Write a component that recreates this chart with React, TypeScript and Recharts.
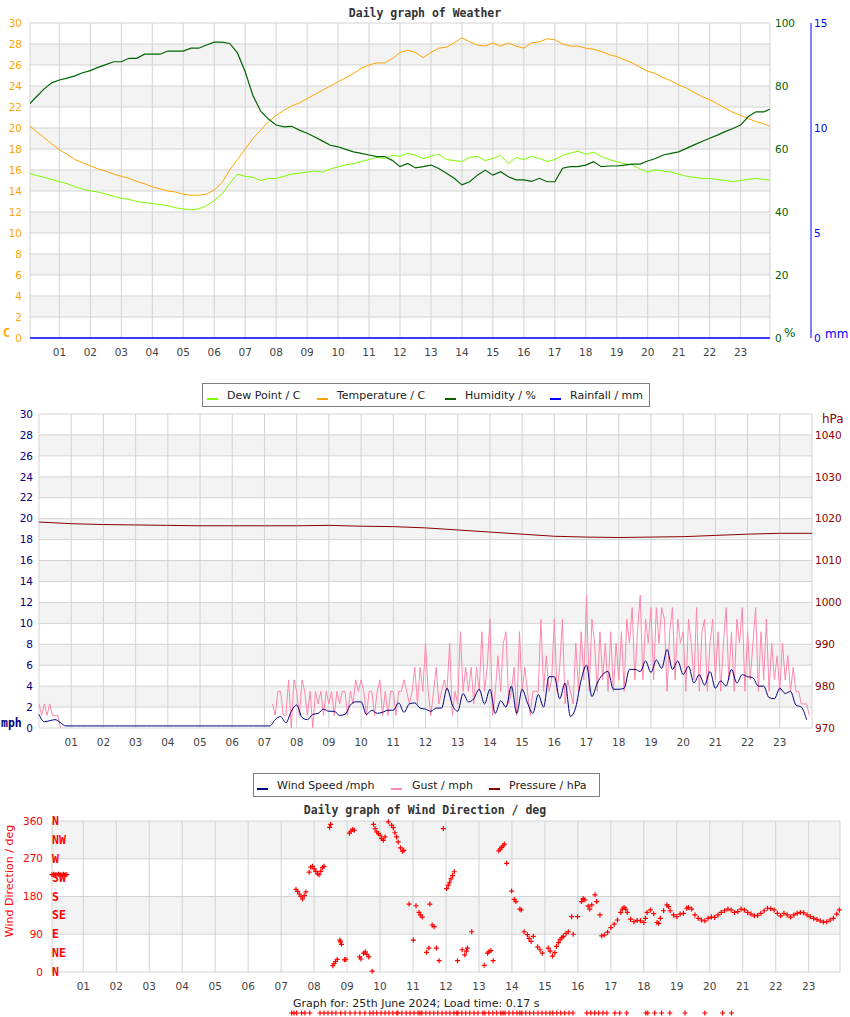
import { LineChart, Line, XAxis, YAxis, CartesianGrid, ScatterChart, Scatter } from "recharts";

const FONT = "'DejaVu Sans', sans-serif";
const MONO = "'DejaVu Sans Mono', monospace";
const GRID = "#d3d3d3";
const BAND = "#f3f3f3";

// x axis hours
const hourTicks = [1, 2, 3, 4, 5, 6, 7, 8, 9, 10, 11, 12, 13, 14, 15, 16, 17, 18, 19, 20, 21, 22, 23];

// top chart, 15 minute samples from 00:00
const temperature = [
  20.3, 19.7, 19.1, 18.5, 17.9, 17.5, 17.0, 16.7, 16.4, 16.1, 15.9, 15.6,
  15.4, 15.2, 14.9, 14.7, 14.4, 14.2, 14.0, 13.9, 13.7, 13.6, 13.6, 13.7,
  14.1, 14.8, 16.0, 17.0, 18.0, 19.0, 19.8, 20.6, 21.2, 21.7, 22.1, 22.4,
  22.8, 23.2, 23.6, 24.0, 24.4, 24.8, 25.2, 25.7, 26.0, 26.2, 26.2, 26.6,
  27.2, 27.4, 27.2, 26.7, 27.2, 27.6, 27.7, 28.1, 28.6, 28.2, 27.9, 27.8,
  28.1, 27.8, 28.1, 27.8, 27.6, 28.1, 28.2, 28.5, 28.4, 28.0, 27.8, 27.8,
  27.6, 27.5, 27.3, 27.0, 26.8, 26.5, 26.2, 25.8, 25.4, 25.2, 24.8, 24.5,
  24.1, 23.8, 23.4, 23.0, 22.7, 22.3, 21.9, 21.5, 21.2, 20.9, 20.6, 20.4, 20.1,
];
const dewPoint = [
  15.7, 15.5, 15.3, 15.1, 14.9, 14.7, 14.4, 14.2, 14.0, 13.9, 13.7, 13.5,
  13.3, 13.2, 13.0, 12.9, 12.8, 12.7, 12.6, 12.4, 12.3, 12.2, 12.3, 12.6,
  13.1, 13.7, 14.7, 15.6, 15.4, 15.3, 15.0, 15.2, 15.2, 15.4, 15.6, 15.7,
  15.8, 15.9, 15.8, 16.1, 16.3, 16.5, 16.6, 16.8, 17.0, 17.2, 17.1, 17.4,
  17.3, 17.6, 17.4, 17.1, 17.3, 17.5, 17.0, 16.9, 16.8, 17.2, 17.3, 16.9,
  17.1, 17.4, 16.6, 17.2, 17.0, 17.3, 17.1, 16.8, 17.0, 17.4, 17.6, 17.8,
  17.5, 17.7, 17.3, 17.0, 16.8, 16.6, 16.5, 16.1, 15.8, 16.0, 15.9, 15.8,
  15.6, 15.4, 15.3, 15.2, 15.2, 15.1, 15.0, 14.9, 15.0, 15.1, 15.2, 15.1, 15.0,
];
const humidity = [
  74.0, 76.5, 79.0, 81.0, 81.9, 82.5, 83.2, 84.2, 84.9, 85.9, 86.8, 87.7,
  87.7, 88.8, 88.8, 90.1, 90.1, 90.1, 91.1, 91.1, 91.1, 92.0, 92.0, 93.0,
  93.9, 93.9, 93.5, 90.5, 84.5, 77.0, 72.0, 69.5, 67.6, 67.0, 67.2, 66.0,
  65.0, 63.8, 62.5, 61.2, 60.7, 59.9, 59.1, 58.6, 58.1, 57.6, 57.6, 56.4,
  54.4, 55.4, 54.0, 54.4, 54.9, 53.8, 52.3, 50.7, 48.6, 49.6, 51.7, 53.3,
  51.7, 52.8, 51.2, 50.2, 50.2, 49.7, 50.7, 49.6, 49.6, 53.9, 54.4, 54.4,
  54.9, 56.0, 54.4, 54.6, 54.6, 54.9, 55.2, 55.2, 56.2, 57.0, 58.1, 58.6,
  59.1, 60.2, 61.3, 62.4, 63.4, 64.4, 65.5, 66.5, 67.6, 70.3, 71.8, 71.8, 72.9,
];
const rainHours = [0, 24];
const rainfall = [0, 0];

// middle chart, wind speed in 10 minute samples
const windSpeed = [
  1.3, 0.6, 0.7, 0.8, 0.5, 0.2,
  0.2, 0.2, 0.2, 0.2, 0.2, 0.2,
  0.2, 0.2, 0.2, 0.2, 0.2, 0.2,
  0.2, 0.2, 0.2, 0.2, 0.2, 0.2,
  0.2, 0.2, 0.2, 0.2, 0.2, 0.2,
  0.2, 0.2, 0.2, 0.2, 0.2, 0.2,
  0.2, 0.2, 0.2, 0.2, 0.2, 0.2,
  0.2, 0.2, 0.8, 1.1, 0.5, 1.6,
  2.2, 1.0, 0.8, 1.3, 1.4, 1.8,
  1.6, 1.6, 1.2, 1.3, 2.2, 2.5,
  2.5, 1.3, 1.7, 1.4, 1.5, 1.7,
  1.7, 2.4, 1.5, 2.3, 2.4, 1.9,
  1.8, 1.6, 1.9, 1.9, 3.8, 2.2,
  1.6, 3.3, 2.5, 2.8, 3.7, 2.3,
  3.7, 1.4, 2.6, 2.0, 4.0, 1.4,
  3.7, 2.4, 1.4, 3.2, 2.0, 4.9,
  4.9, 2.8, 4.3, 1.1, 2.0, 4.6,
  6.0, 3.0, 4.3, 5.1, 5.4, 3.7,
  3.7, 3.8, 5.6, 5.6, 5.4, 6.4,
  5.3, 6.5, 5.7, 7.5, 5.6, 6.4,
  5.1, 5.9, 4.3, 5.1, 4.1, 5.4,
  3.8, 4.5, 4.0, 5.6, 4.3, 5.1,
  4.9, 4.8, 4.0, 4.0, 2.9, 2.8,
  3.8, 3.3, 3.5, 2.2, 2.0, 0.8,
];
// gust in 5 minute samples: just after midnight, then from 07:15
const gustNight = [2.3, 1.2, 2.3, 1.2, 2.3, 1.2, 1.2, 1.2, 0];
const gustDay = [
  2.3, 1.2, 3.5, 3.5, 1.2, 1.2, 4.6, 0, 4.6,
  3.5, 1.2, 4.6, 3.5, 1.2, 3.5, 0, 3.5, 2.3, 3.5, 1.2, 3.5,
  2.3, 3.5, 1.2, 3.5, 2.3, 3.5, 3.5, 1.2, 3.5, 2.3, 4.6, 3.5,
  4.6, 3.5, 1.2, 3.5, 3.5, 1.2, 3.5, 4.6, 1.2, 3.5, 1.2, 3.5,
  3.5, 1.2, 3.5, 3.5, 4.6, 3.5, 2.3, 3.5, 5.8, 2.3, 5.8, 3.5,
  8.1, 3.5, 1.2, 3.5, 5.8, 2.3, 3.5, 4.6, 3.5, 8.1, 1.2, 3.5,
  2.3, 9.2, 3.5, 5.8, 3.5, 5.8, 2.3, 5.8, 3.5, 9.2, 3.5, 5.8,
  10.4, 1.2, 3.5, 6.9, 3.5, 8.1, 9.2, 2.3, 3.5, 5.8, 1.2, 9.2,
  3.5, 5.8, 3.5, 1.2, 3.5, 3.5, 3.5, 10.4, 3.5, 6.9, 3.5, 4.6,
  10.4, 3.5, 5.8, 10.4, 2.3, 4.6, 3.5, 2.3, 8.1, 3.5, 9.2, 4.6,
  12.7, 3.5, 10.4, 8.1, 3.5, 9.2, 4.6, 8.1, 3.5, 9.2, 3.5, 8.1,
  4.6, 9.2, 3.5, 10.4, 8.1, 11.5, 4.6, 9.2, 12.7, 4.6, 10.4, 8.1,
  11.5, 4.6, 11.5, 8.1, 11.5, 10.4, 3.5, 9.2, 11.5, 4.6, 10.4, 8.1,
  9.2, 3.5, 10.4, 8.1, 4.6, 11.5, 3.5, 9.2, 10.4, 3.5, 8.1, 10.4,
  4.6, 9.2, 3.5, 8.1, 11.5, 4.6, 9.2, 3.5, 10.4, 8.1, 11.5, 3.5,
  9.2, 4.6, 8.1, 11.5, 3.5, 9.2, 4.6, 10.4, 3.5, 8.1, 4.6, 6.9,
  3.5, 8.1, 4.6, 6.9, 3.5, 5.8, 3.5, 3.5, 2.3, 2.3, 2.3, 1.2,
];
// hourly pressure
const pressure = [
  1019.2, 1018.8, 1018.6, 1018.5, 1018.4, 1018.3, 1018.3, 1018.3, 1018.3, 1018.4,
  1018.2, 1018.1, 1017.8, 1017.3, 1016.8, 1016.3, 1015.8, 1015.6, 1015.5, 1015.6,
  1015.7, 1016.0, 1016.3, 1016.5, 1016.5,
];

// bottom chart
const dirHours = [
  0.05, 0.1, 0.15, 0.2, 0.25, 0.3, 0.35, 0.4, 0.45, 0.5,
  7.45, 7.5, 7.55, 7.6, 7.65, 7.7, 7.75, 7.85, 7.9, 7.95, 8.0, 8.05, 8.1, 8.15, 8.2, 8.25, 8.3,
  8.47, 8.5, 8.57, 8.6, 8.65, 8.7, 8.78, 8.8, 8.83, 8.92, 8.96,
  9.07, 9.12, 9.17, 9.22, 9.38, 9.42, 9.5, 9.55, 9.6, 9.66, 9.76,
  9.8, 9.85, 9.9, 9.95, 10.0, 10.05, 10.1, 10.15, 10.25, 10.35, 10.4, 10.45, 10.5, 10.55, 10.62, 10.68, 10.72,
  10.88, 11.01, 11.09, 11.18, 11.22, 11.28,
  11.41, 11.48, 11.51, 11.58, 11.64, 11.71, 11.79, 11.92,
  12.02, 12.07, 12.11, 12.15, 12.2, 12.25, 12.35, 12.49, 12.57, 12.62, 12.65, 12.78,
  13.16, 13.26, 13.3, 13.36, 13.43, 13.6, 13.64, 13.69, 13.73, 13.77, 13.84,
  13.99, 14.07, 14.12, 14.24, 14.28, 14.37, 14.47, 14.52, 14.58, 14.65, 14.78, 14.85, 14.92,
  15.1, 15.16, 15.23, 15.3, 15.35, 15.41, 15.46, 15.52, 15.56, 15.64, 15.71, 15.81, 15.86, 15.99,
  16.11, 16.16, 16.21, 16.31, 16.36, 16.42, 16.52, 16.57, 16.67,
  16.72, 16.8, 16.9, 17.0, 17.1, 17.2, 17.3, 17.35, 17.4, 17.45, 17.5, 17.6, 17.7, 17.8, 17.9,
  18.0, 18.05, 18.1, 18.2, 18.3, 18.4, 18.45, 18.5, 18.6, 18.7, 18.75, 18.8, 18.9,
  19.0, 19.1, 19.2, 19.3, 19.35, 19.45, 19.55, 19.65, 19.75, 19.85, 19.95,
  20.05, 20.15, 20.25, 20.35, 20.45, 20.55, 20.65, 20.75, 20.85, 20.95,
  21.05, 21.15, 21.25, 21.35, 21.45, 21.55, 21.65, 21.75, 21.85, 21.95,
  22.05, 22.15, 22.25, 22.35, 22.45, 22.55, 22.65, 22.75, 22.85, 22.95,
  23.05, 23.15, 23.25, 23.35, 23.45, 23.55, 23.65, 23.75, 23.85, 23.93,
];
const dirDegrees = [
  232, 233, 232, 232, 233, 232, 232, 233, 232, 232,
  197, 192, 186, 180, 174, 182, 191, 238, 250, 252, 246, 240, 234, 232, 240, 249, 252,
  345, 352, 15, 20, 25, 30, 76, 72, 66, 29, 30,
  331, 336, 340, 338, 36, 31, 45, 48, 42, 36, 2,
  352, 342, 334, 330, 326, 318, 314, 322, 358, 350, 344, 332, 322, 310, 296, 288, 290,
  162, 76, 158, 142, 136, 131,
  47, 57, 162, 112, 108, 57, 27, 342,
  199, 207, 214, 222, 230, 239, 27, 53, 41, 50, 57, 96,
  16, 45, 48, 51, 27, 289, 293, 297, 301, 305, 259,
  193, 173, 168, 150, 148, 96, 89, 80, 73, 85, 60, 53, 45,
  57, 50, 38, 46, 61, 70, 77, 82, 85, 92, 96, 132, 90, 132,
  168, 175, 172, 157, 150, 160, 184, 168, 136,
  86, 88, 95, 106, 114, 124, 142, 150, 154, 150, 142, 126, 120, 123, 122,
  118, 128, 142, 148, 139, 118, 116, 128, 146, 160, 156, 146, 136,
  132, 138, 140, 152, 154, 150, 136, 128, 124, 122, 128,
  131, 130, 136, 142, 146, 150, 148, 142, 144, 150,
  148, 142, 138, 134, 135, 140, 146, 152, 151, 148,
  140, 134, 140, 136, 131, 136, 140, 142, 141, 136,
  132, 128, 125, 122, 119, 120, 124, 128, 138, 148,
];
// marks on the footer row
const footerHours = [
  7.32, 7.39, 7.47, 7.62, 7.72, 7.87, 8.18, 8.3, 8.42, 8.54, 8.66, 8.81, 8.94,
  9.09, 9.24, 9.39, 9.54, 9.69, 9.79, 9.9, 10.03, 10.15, 10.27, 10.39, 10.51, 10.54,
  10.66, 10.79, 10.91, 11.03, 11.15, 11.21, 11.27, 11.39, 11.51, 11.63, 11.75, 11.88,
  12.0, 12.12, 12.24, 12.33, 12.36, 12.48, 12.6, 12.72, 12.85, 12.97, 13.12, 13.18,
  13.3, 13.42, 13.54, 13.66, 13.73, 13.79, 13.91, 14.03, 14.15, 14.24, 14.3, 14.42,
  14.54, 14.66, 14.79, 14.91, 15.03, 15.15, 15.24, 15.36, 15.48, 15.6, 15.73, 15.85,
  16.27, 16.39, 16.51, 16.63, 16.76, 16.88, 17.12, 17.27, 17.48, 18.06, 18.12,
  18.33, 18.54, 18.79, 19.25, 19.85, 20.39, 20.66,
];

const compassNames = ["N", "NE", "E", "SE", "S", "SW", "W", "NW", "N"];
const compassDegrees = [0, 45, 90, 135, 180, 225, 270, 315, 360];

const weatherRows = temperature.map((t, i) => ({ h: i / 4, temp: t, dew: dewPoint[i], hum: humidity[i] }));
const rainRows = rainHours.map((h, i) => ({ h, rain: rainfall[i] }));
const windRows = windSpeed.map((w, i) => ({ h: i / 6, wind: w }));
const gustNightRows = gustNight.map((g, i) => ({ h: i / 12, gust: g }));
const gustDayRows = gustDay.map((g, i) => ({ h: 7.25 + i / 12, gust: g }));
const pressureRows = pressure.map((p, i) => ({ h: i, pres: p }));
const dirRows = dirHours.map((h, i) => ({ h, d: dirDegrees[i] }));
const footerRows = footerHours.map((h) => ({ h, y: 0.5 }));

const hourLabel = (v: number) => (Number.isInteger(v) && v > 0 && v < 24 ? String(v).padStart(2, "0") : "");
const edgeTicks = [0.05, ...hourTicks, 23.95];
const fullTicks = [0, ...hourTicks, 24];
const xTick = { fill: "#444", fontSize: 10.5, fontFamily: FONT };

const Cross = (props: any) => {
  const { cx, cy } = props;
  if (cx == null || cy == null) return null;
  return <path d={`M${cx - 2.5},${cy}H${cx + 2.5}M${cx},${cy - 2.5}V${cy + 2.5}`} stroke="#ff0000" strokeWidth={1.2} fill="none" />;
};

const abs = (left: number, top: number, extra: React.CSSProperties = {}): React.CSSProperties => ({
  position: "absolute",
  left,
  top,
  whiteSpace: "nowrap",
  ...extra,
});

const titleStyle: React.CSSProperties = { fontFamily: MONO, fontWeight: "bold", fontSize: 11.5, color: "#333", lineHeight: "14px" };

function LegendItems({ items, top }: { items: Array<{ label: string; color: string; dash: number; text: number }>; top: number }) {
  return (
    <>
      {items.map((it) => (
        <div key={it.label}>
          <div style={abs(it.dash, top + 8, { width: 11, height: 2, background: it.color })} />
          <div style={abs(it.text, top, { fontFamily: FONT, fontSize: 11, lineHeight: "12px", color: "#222" })}>{it.label}</div>
        </div>
      ))}
    </>
  );
}

export default function App() {
  const dirTop = 821;
  const dirHeight = 151;
  return (
    <div style={{ position: "absolute", left: 0, top: 0, width: 850, height: 1017, background: "#fff", overflow: "hidden", fontFamily: FONT }}>
      <div style={abs(0, 6, { width: 850, textAlign: "center", ...titleStyle })}>Daily graph of Weather</div>

      <div style={abs(0, 0)}>
        <LineChart width={850} height={370} data={weatherRows} margin={{ top: 23, right: 0, bottom: 0, left: 0 }}>
          <CartesianGrid yAxisId="temp" stroke={GRID} horizontalFill={["#ffffff", BAND]} />
          <XAxis dataKey="h" type="number" domain={[0.05, 23.95]} allowDataOverflow ticks={edgeTicks} interval={0}
            tickFormatter={hourLabel} height={32} axisLine={false} tickLine={false} tickSize={0} tickMargin={11} tick={xTick} />
          <YAxis yAxisId="temp" domain={[0, 30]} ticks={[0, 2, 4, 6, 8, 10, 12, 14, 16, 18, 20, 22, 24, 26, 28, 30]} interval={0}
            width={30} axisLine={false} tickLine={false} tickSize={0} tickMargin={8} tick={{ fill: "#ffa500", fontSize: 10.5, fontFamily: FONT }} />
          <YAxis yAxisId="hum" orientation="right" domain={[0, 100]} ticks={[0, 20, 40, 60, 80, 100]} interval={0}
            width={41} axisLine={false} tickLine={false} tickSize={0} tickMargin={5} tick={{ fill: "#006400", fontSize: 10.5, fontFamily: FONT }} />
          <YAxis yAxisId="rain" orientation="right" domain={[0, 15]} ticks={[0, 5, 10, 15]} interval={0}
            width={39} axisLine={{ stroke: "#0000ff" }} tickLine={false} tickSize={0} tickMargin={3} tick={{ fill: "#0000ff", fontSize: 10.5, fontFamily: FONT }} />
          <Line yAxisId="temp" dataKey="dew" stroke="#7cfc00" strokeWidth={1} dot={false} activeDot={false} isAnimationActive={false} />
          <Line yAxisId="temp" dataKey="temp" stroke="#ffa500" strokeWidth={1} dot={false} activeDot={false} isAnimationActive={false} />
          <Line yAxisId="hum" dataKey="hum" stroke="#006400" strokeWidth={1.2} dot={false} activeDot={false} isAnimationActive={false} />
          <Line yAxisId="rain" data={rainRows} dataKey="rain" stroke="#0000ff" strokeWidth={1.5} dot={false} activeDot={false} isAnimationActive={false} />
        </LineChart>
      </div>
      <div style={abs(3, 326, { fontFamily: MONO, fontWeight: "bold", fontSize: 11.5, color: "#ffa500", lineHeight: "14px" })}>C</div>
      <div style={abs(784, 326, { fontSize: 12, color: "#006400", lineHeight: "14px" })}>%</div>
      <div style={abs(825, 327, { fontSize: 12, color: "#0000ff", lineHeight: "14px" })}>mm</div>

      <div style={abs(202, 383, { width: 446, height: 22, border: "1px solid #808080", background: "#fff" })} />
      <LegendItems top={390} items={[
        { label: "Dew Point / C", color: "#7cfc00", dash: 207, text: 227 },
        { label: "Temperature / C", color: "#ffa500", dash: 317, text: 337 },
        { label: "Humidity / %", color: "#006400", dash: 445, text: 465 },
        { label: "Rainfall / mm", color: "#0000ff", dash: 550, text: 570 },
      ]} />

      <div style={abs(0, 390)}>
        <LineChart width={850} height={370} data={windRows} margin={{ top: 24, right: 0, bottom: 0, left: 0 }}>
          <CartesianGrid yAxisId="wind" stroke={GRID} horizontalFill={["#ffffff", BAND]} />
          <XAxis dataKey="h" type="number" domain={[0, 24]} ticks={fullTicks} interval={0}
            tickFormatter={hourLabel} height={32} axisLine={false} tickLine={false} tickSize={0} tickMargin={11} tick={xTick} />
          <YAxis yAxisId="wind" domain={[0, 30]} ticks={[0, 2, 4, 6, 8, 10, 12, 14, 16, 18, 20, 22, 24, 26, 28, 30]} interval={0}
            width={39} axisLine={false} tickLine={false} tickSize={0} tickMargin={6} tick={{ fill: "#000080", fontSize: 10.5, fontFamily: FONT }} />
          <YAxis yAxisId="pres" orientation="right" domain={[970, 1045]} ticks={[970, 980, 990, 1000, 1010, 1020, 1030, 1040]} interval={0}
            width={38} axisLine={false} tickLine={false} tickSize={0} tickMargin={3} tick={{ fill: "#8b0000", fontSize: 10.5, fontFamily: FONT }} />
          <Line yAxisId="wind" data={gustNightRows} dataKey="gust" stroke="#ff88aa" strokeWidth={1} dot={false} activeDot={false} isAnimationActive={false} />
          <Line yAxisId="wind" data={gustDayRows} dataKey="gust" stroke="#ff88aa" strokeWidth={1} dot={false} activeDot={false} isAnimationActive={false} />
          <Line yAxisId="wind" dataKey="wind" type="monotone" stroke="#000080" strokeWidth={1} dot={false} activeDot={false} isAnimationActive={false} />
          <Line yAxisId="pres" data={pressureRows} dataKey="pres" stroke="#8b0000" strokeWidth={1} dot={false} activeDot={false} isAnimationActive={false} />
        </LineChart>
      </div>
      <div style={abs(1, 716, { fontFamily: MONO, fontWeight: "bold", fontSize: 11.5, color: "#000080", lineHeight: "14px" })}>mph</div>
      <div style={abs(822, 412, { fontSize: 12, color: "#8b0000", lineHeight: "14px" })}>hPa</div>

      <div style={abs(253, 773, { width: 345, height: 22, border: "1px solid #808080", background: "#fff" })} />
      <LegendItems top={780} items={[
        { label: "Wind Speed /mph", color: "#000080", dash: 257, text: 277 },
        { label: "Gust / mph", color: "#ff88aa", dash: 391, text: 412 },
        { label: "Pressure / hPa", color: "#8b0000", dash: 489, text: 509 },
      ]} />

      <div style={abs(0, 803, { width: 850, textAlign: "center", ...titleStyle })}>Daily graph of Wind Direction / deg</div>
      <div style={abs(0, 800)}>
        <ScatterChart width={850} height={205} margin={{ top: 21, right: 10, bottom: 0, left: 0 }}>
          <CartesianGrid stroke={GRID} horizontalFill={[BAND, "#ffffff"]} />
          <XAxis dataKey="h" type="number" domain={[0.05, 23.95]} ticks={edgeTicks} interval={0}
            tickFormatter={hourLabel} height={33} axisLine={false} tickLine={false} tickSize={0} tickMargin={11} tick={xTick} />
          <YAxis dataKey="d" type="number" domain={[0, 360]} ticks={[0, 90, 180, 270, 360]} interval={0}
            width={52} axisLine={false} tickLine={false} tickSize={0} tickMargin={9} tick={{ fill: "#ff0000", fontSize: 10.5, fontFamily: FONT }} />
          <Scatter data={dirRows} shape={Cross} isAnimationActive={false} />
        </ScatterChart>
      </div>
      {compassNames.map((name, i) => (
        <div key={i} style={abs(52, dirTop + ((360 - compassDegrees[i]) / 360) * dirHeight - 7, { fontFamily: MONO, fontWeight: "bold", fontSize: 11.5, color: "#ff0000", lineHeight: "14px" })}>
          {name}
        </div>
      ))}
      <div style={abs(10, 881, { fontSize: 11, color: "#ff0000", lineHeight: "12px", transform: "translate(-50%, -50%) rotate(-90deg)" })}>
        Wind Direction / deg
      </div>

      <div style={abs(293, 998, { fontSize: 11, color: "#222", lineHeight: "12px" })}>Graph for: 25th June 2024; Load time: 0.17 s</div>
      <div style={abs(0, 1006)}>
        <ScatterChart width={850} height={14} margin={{ top: 0, right: 10, bottom: 0, left: 52 }}>
          <XAxis dataKey="h" type="number" domain={[0.05, 23.95]} hide />
          <YAxis dataKey="y" type="number" domain={[0, 1]} hide />
          <Scatter data={footerRows} shape={Cross} isAnimationActive={false} />
        </ScatterChart>
      </div>
    </div>
  );
}
